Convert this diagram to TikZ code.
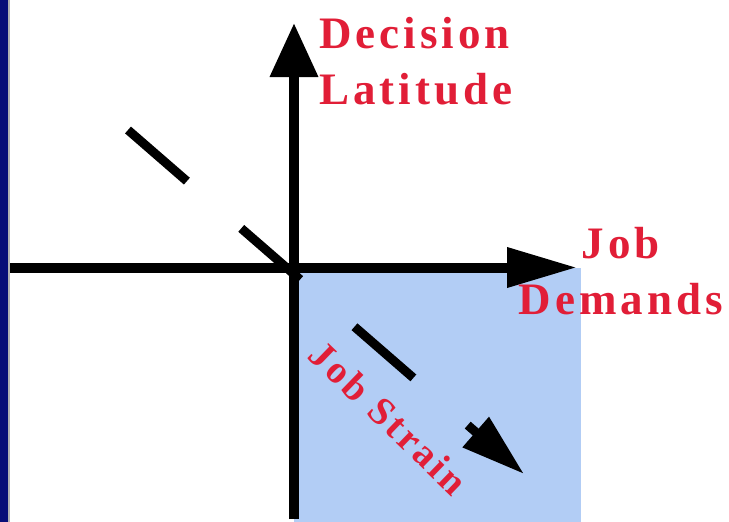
\documentclass[tikz,border=0pt]{standalone}
\usepackage{fontspec}
\setmainfont{Liberation Serif}
\newfontfamily\labelfont[LetterSpace=9]{Liberation Serif}
\usetikzlibrary{positioning,arrows.meta}
\definecolor{barnavy}{RGB}{8,14,120}
\definecolor{labelred}{RGB}{225,30,55}
\definecolor{strainblue}{RGB}{178,205,245}

\begin{document}
\begin{tikzpicture}[
  x=1pt, y=-1pt,
  axis/.style={line width=10pt},
  trend/.style={line width=9pt, dash pattern=on 78pt off 72pt, -{Triangle[length=64pt, width=38pt]}},
  lbl/.style={text=labelred, inner sep=0pt, font=\labelfont\bfseries\fontsize{45}{56}\selectfont}
]
\useasboundingbox (0,0) rectangle (729,522);
\fill[white] (0,0) rectangle (729,522);
\fill[barnavy] (0,0) rectangle (8,522);
\fill[gray!60] (8,0) rectangle (10,522);
\coordinate (origin) at (294,267.5);
\coordinate (xstart) at (10,267.5);
\coordinate (xend) at (577,267.5);
\coordinate (ybottom) at (294,519);
\coordinate (ytop) at (294,23);
\coordinate (trendstart) at (128,130);
\coordinate (trendend) at (524,474);
\fill[strainblue] (origin) rectangle (581,522);
\draw[trend] (trendstart) -- (trendend);
\draw[axis, -{Triangle[length=70pt, width=38pt]}] (xstart) -- (xend);
\draw[axis, -{Triangle[length=54pt, width=46pt]}] (ybottom) -- (ytop);
\node[lbl, align=left, anchor=north west] (latitude) at (319,17) {Decision\\Latitude};
\node[lbl, align=center, anchor=north] (demands) at (621,227) {Job\\Demands};
\node[lbl, rotate=-44, font=\labelfont\bfseries\fontsize{39}{46}\selectfont] (strain) at (389,418) {Job Strain};
\end{tikzpicture}
\end{document}
